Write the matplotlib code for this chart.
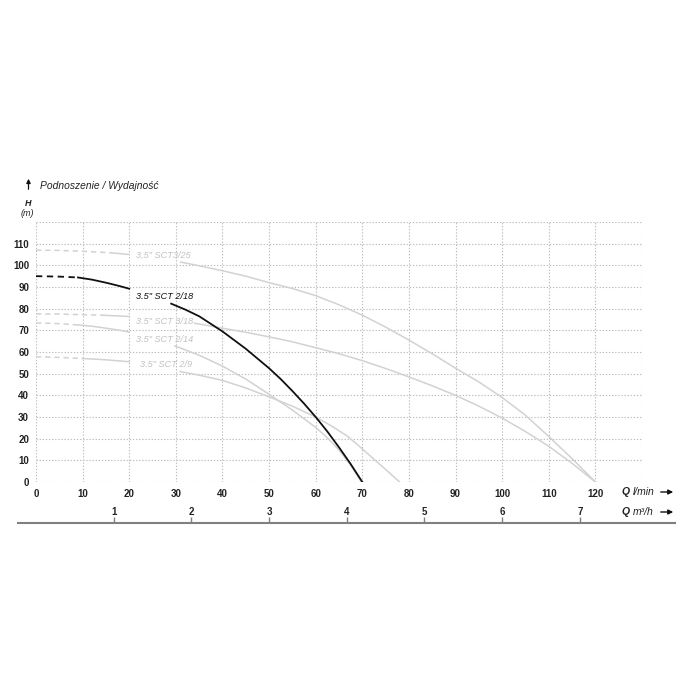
import numpy as np
import matplotlib
matplotlib.use("Agg")
import matplotlib.pyplot as plt
from matplotlib.patches import FancyArrowPatch

# pump curves, Q in l/min, H in m
q_3_25 = [0, 5, 10, 16, 20, 31, 35, 40, 45, 50, 55, 60, 65, 70, 75, 80, 85, 90, 95, 100, 105, 110, 115, 120]
h_3_25 = [107, 106.9, 106.5, 105.8, 105, 101.5, 99.8, 97.5, 95, 92, 89.3, 86, 81.8, 77, 71.5, 65.5, 59.2,
          52.5, 46.2, 39, 30.8, 21, 10.8, 0]

q_3_18 = [0, 5, 10, 14, 20, 34, 40, 45, 50, 55, 60, 65, 70, 75, 80, 85, 90, 95, 100, 105, 110, 115, 120]
h_3_18 = [77.6, 77.5, 77.2, 77, 76.4, 73.3, 71, 69.1, 67, 64.7, 62, 59.2, 56, 52.4, 48.5, 44.4, 40, 35,
          29.5, 23.3, 16.5, 8.6, 0]

q_2_18 = [0, 5, 9, 12, 15, 18, 20, 29, 32, 35, 40, 45, 50, 52.5, 55, 57.5, 60, 62.5, 65, 67.5, 70]
h_2_18 = [95, 94.8, 94.4, 93.4, 92, 90.4, 89.2, 82.3, 79.6, 76.5, 69.5, 61.5, 52.5, 47.5, 42, 36.2, 30,
          23.3, 16, 8.3, 0]

q_2_14 = [0, 5, 9, 12, 15, 18, 20, 29.8, 35, 40, 45, 50, 55, 60, 62.5, 65, 67.5, 69.8]
h_2_14 = [73.4, 73.1, 72.5, 71.9, 71, 70, 69.2, 62.8, 58.5, 53.5, 47.5, 40.5, 33.2, 25.2, 20.4, 14.8, 7.8, 0]

q_2_9 = [0, 5, 10, 15, 20, 30.9, 35, 40, 45, 50, 55, 60, 63.3, 66.7, 69, 71.7, 75, 78]
h_2_9 = [57.8, 57.5, 57, 56.4, 55.5, 51, 49.3, 46.9, 43.4, 39.3, 35, 30, 26, 21.3, 17.2, 12, 5.8, 0]

curve_names = ['3,5" SCT3/25', '3.5" SCT 3/18', '3.5" SCT 2/18', '3.5" SCT 2/14', '3.5" SCT 2/9']

x_ticks_lmin = list(range(0, 121, 10))
y_ticks_m = list(range(0, 111, 10))
ticks_m3h = [1, 2, 3, 4, 5, 6, 7]

# drawing setup: (q, h, name, colour, dashed until, label gap from, to, label pos)
GRAY = "#d2d2d2"
curves = [
    (q_3_25, h_3_25, curve_names[0], GRAY, 16, 20, 31, (21.5, 104.5)),
    (q_3_18, h_3_18, curve_names[1], GRAY, 14, 20, 34, (21.5, 74.2)),
    (q_2_14, h_2_14, curve_names[3], GRAY, 9, 20, 29.8, (21.5, 65.8)),
    (q_2_9, h_2_9, curve_names[4], GRAY, 10, 20, 30.9, (22.3, 54.3)),
    (q_2_18, h_2_18, curve_names[2], "#111111", 9, 20, 29, (21.4, 85.6)),
]

plt.rcParams['font.family'] = ['Liberation Sans', 'DejaVu Sans']

W = 700.0
fig = plt.figure(figsize=(7, 7), dpi=100)
fig.patch.set_facecolor("white")

# main grid area: x 36..642 px, y 222..482 px
ax = fig.add_axes([36 / W, 1 - 482 / W, 606 / W, 260 / W])
ax.set_xlim(0, 130)
ax.set_ylim(0, 120)
for s in ax.spines.values():
    s.set_visible(False)
ax.set_xticks(list(range(0, 131, 10)))
ax.set_yticks(list(range(0, 121, 10)))
ax.set_xticklabels([str(v) for v in x_ticks_lmin] + [""])
ax.set_yticklabels([str(v) for v in y_ticks_m] + [""])
ax.tick_params(length=0, labelsize=7, labelcolor="#222222", pad=5)
for lab in ax.get_xticklabels() + ax.get_yticklabels():
    lab.set_fontweight("bold")
ax.grid(True, linestyle=(0, (1.2, 1.6)), color="#bcbcbc", linewidth=0.8)
ax.set_axisbelow(True)

for q, h, name, col, dash_end, g0, g1, (lx, ly) in curves:
    q = np.asarray(q, float)
    h = np.asarray(h, float)
    lw = 1.1 if col == GRAY else 1.3
    m = q <= dash_end
    ax.plot(q[m], h[m], color=col, lw=lw, linestyle=(0, (3.5, 2.5)), solid_joinstyle="round")
    m = (q >= dash_end) & (q <= g0)
    ax.plot(q[m], h[m], color=col, lw=lw, solid_joinstyle="round")
    m = q >= g1
    ax.plot(q[m], h[m], color=col, lw=lw, solid_joinstyle="round")
    tcol = "#c2c2c2" if col == GRAY else "#111111"
    ax.text(lx, ly, name, color=tcol, fontsize=6.6, fontstyle="italic",
            ha="left", va="center")

# second flow axis in m3/h
lo = -(36 - 18) / 606 * 130
hi = (675 - 36) / 606 * 130
ax2 = fig.add_axes([18 / W, 1 - 523 / W, 657 / W, 14 / W])
ax2.set_xlim(lo, hi)
ax2.set_ylim(0, 1)
ax2.patch.set_visible(False)
for k in ["top", "left", "right"]:
    ax2.spines[k].set_visible(False)
ax2.spines["bottom"].set_color("#808080")
ax2.spines["bottom"].set_linewidth(1.5)
pos = [v * 1000 / 60 for v in ticks_m3h]
ax2.set_xticks(pos)
ax2.set_yticks([])
ax2.tick_params(axis="x", direction="in", length=4.5, width=1, color="#808080", labelbottom=False)
for p, v in zip(pos, ticks_m3h):
    ax2.text(p, 0.78, str(v), transform=ax2.get_xaxis_transform(), ha="center", va="center",
             fontsize=7, fontweight="bold", color="#222222")

# axis captions and arrows
def fx(px):
    return px / W

def fy(py):
    return 1 - py / W

for py, unit in ((492, "l/min"), (512, "m\u00b3/h")):
    fig.text(fx(622), fy(py), "Q", fontsize=7.5, fontweight="bold", fontstyle="italic",
             va="center", color="#222222")
    fig.text(fx(633), fy(py), unit, fontsize=7.5, fontstyle="italic", va="center", color="#222222")
    fig.add_artist(FancyArrowPatch((fx(658), fy(py)), (fx(676), fy(py)),
                   transform=fig.transFigure, arrowstyle="-|>", mutation_scale=7,
                   color="#111111", lw=1.0))

fig.add_artist(FancyArrowPatch((fx(28.5), fy(192)), (fx(28.5), fy(176)),
               transform=fig.transFigure, arrowstyle="-|>", mutation_scale=6,
               color="#111111", lw=0.9))
fig.text(fx(40), fy(186), "Podnoszenie / Wydajno\u015b\u0107", fontsize=7.4, fontstyle="italic",
         va="center", ha="left", color="#222222")
fig.text(fx(28), fy(204), "H", fontsize=6.5, fontweight="bold", fontstyle="italic",
         ha="center", va="center", color="#222222")
fig.text(fx(27), fy(214), "(m)", fontsize=6.5, fontstyle="italic",
         ha="center", va="center", color="#222222")

fig.savefig("out.png", dpi=100, facecolor="white")
plt.close(fig)
